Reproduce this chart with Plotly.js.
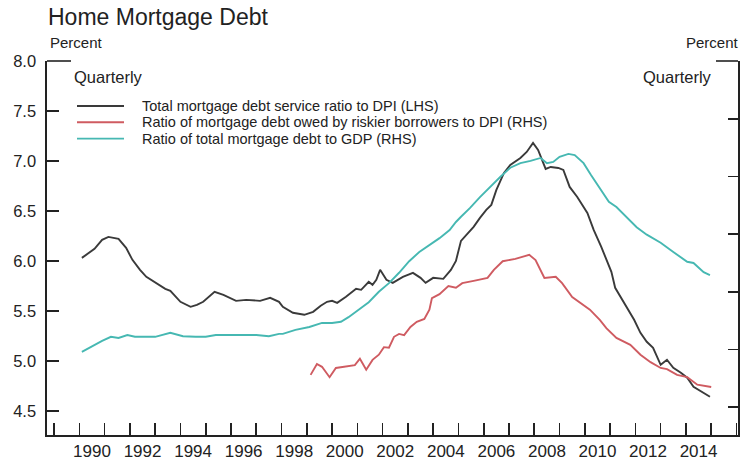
<!DOCTYPE html>
<html>
<head>
<meta charset="utf-8">
<script src="https://cdn.plot.ly/plotly-3.0.1.min.js"></script>
<style>html,body{margin:0;padding:0;background:#fff;}#chart{width:740px;height:466px;}</style>
</head>
<body>
<div id="chart"></div>
<script>
// Total mortgage debt service ratio to DPI (LHS), percent
const dsrYears = [1990.1,1990.6,1990.9,1991.15,1991.55,1991.85,1992.1,1992.4,1992.65,1993.05,1993.4,1993.6,1994.0,1994.4,1994.65,1994.9,1995.35,1995.7,1996.0,1996.2,1996.6,1997.15,1997.55,1997.9,1998.05,1998.45,1998.9,1999.25,1999.55,1999.8,2000.0,2000.2,2000.55,2000.95,2001.15,2001.45,2001.6,2001.75,2001.9,2002.15,2002.4,2002.8,2003.2,2003.5,2003.7,2004.0,2004.4,2004.7,2004.9,2005.1,2005.35,2005.6,2005.85,2006.1,2006.3,2006.5,2006.8,2007.05,2007.45,2007.7,2007.95,2008.15,2008.45,2008.65,2008.95,2009.15,2009.4,2009.7,2010.1,2010.35,2010.65,2010.85,2011.05,2011.2,2011.55,2011.95,2012.2,2012.45,2012.7,2013.0,2013.25,2013.5,2013.8,2014.05,2014.3,2014.6,2014.95];
const dsr      = [6.03,6.12,6.21,6.24,6.22,6.13,6.01,5.91,5.84,5.78,5.72,5.70,5.59,5.54,5.56,5.59,5.69,5.66,5.62,5.60,5.61,5.60,5.63,5.59,5.54,5.48,5.46,5.49,5.55,5.59,5.60,5.58,5.64,5.72,5.71,5.79,5.76,5.81,5.91,5.81,5.78,5.84,5.88,5.83,5.78,5.83,5.82,5.91,6.00,6.20,6.27,6.34,6.43,6.51,6.56,6.71,6.88,6.96,7.03,7.09,7.18,7.11,6.92,6.94,6.93,6.91,6.74,6.64,6.48,6.31,6.14,6.01,5.89,5.73,5.58,5.41,5.28,5.19,5.13,4.96,5.01,4.93,4.88,4.83,4.74,4.69,4.64];

// Ratio of mortgage debt owed by riskier borrowers to DPI (RHS), percent
const riskyYears = [1999.15,1999.4,1999.6,1999.9,2000.15,2000.55,2000.9,2001.1,2001.35,2001.6,2001.85,2002.05,2002.25,2002.45,2002.65,2002.85,2003.1,2003.35,2003.65,2003.85,2003.95,2004.25,2004.6,2004.9,2005.15,2005.6,2006.15,2006.4,2006.75,2007.25,2007.8,2008.05,2008.4,2008.85,2009.1,2009.5,2009.8,2010.05,2010.2,2010.6,2010.85,2011.25,2011.8,2012.2,2012.6,2013.0,2013.25,2013.65,2014.05,2014.45,2015.0];
const risky      = [35.6,37.5,37.0,35.2,36.8,37.0,37.3,38.4,36.5,38.2,39.1,40.4,40.3,42.2,42.7,42.5,43.9,44.8,45.3,46.9,48.9,49.6,51.0,50.7,51.5,51.9,52.4,53.8,55.3,55.7,56.4,55.5,52.4,52.6,51.5,49.1,48.2,47.4,46.9,45.1,43.7,42.0,40.8,39.1,37.8,36.8,36.6,35.6,35.2,33.9,33.5];

// Ratio of total mortgage debt to GDP (RHS), percent
const gdpYears = [1990.1,1990.5,1990.9,1991.25,1991.55,1991.9,1992.2,1992.6,1993.0,1993.6,1994.1,1994.6,1995.0,1995.4,1995.9,1996.45,1997.0,1997.5,1997.9,1998.05,1998.55,1999.1,1999.6,2000.0,2000.35,2000.65,2001.05,2001.45,2001.85,2002.25,2002.65,2003.05,2003.45,2003.85,2004.25,2004.65,2004.9,2005.1,2005.45,2005.85,2006.25,2006.65,2007.05,2007.45,2007.85,2008.25,2008.5,2008.75,2009.0,2009.35,2009.6,2009.95,2010.25,2010.6,2010.95,2011.25,2011.65,2012.05,2012.45,2013.0,2013.5,2014.05,2014.3,2014.7,2014.95];
const mortgageToGdp = [39.6,40.6,41.5,42.2,42.0,42.5,42.2,42.2,42.2,42.9,42.3,42.2,42.2,42.5,42.5,42.5,42.5,42.3,42.7,42.7,43.4,43.9,44.6,44.6,44.8,45.6,46.9,48.2,50.0,51.5,53.3,55.3,56.9,58.1,59.3,60.7,62.1,63.0,64.5,66.4,68.2,69.9,71.5,72.3,72.7,73.2,72.3,72.5,73.4,73.9,73.7,72.3,70.2,67.8,65.6,64.7,63.0,61.2,59.9,58.5,56.9,55.2,55.0,53.4,52.9];

// Tick labels on the time axis (placed mid-year)
const yearLabelPos = [1990.5,1992.5,1994.5,1996.5,1998.5,2000.5,2002.5,2004.5,2006.5,2008.5,2010.5,2012.5,2014.5];
const yearLabels = ['1990','1992','1994','1996','1998','2000','2002','2004','2006','2008','2010','2012','2014'];

// Series names and colours (legend)
const seriesNames = [
  'Total mortgage debt service ratio to DPI (LHS)',
  'Ratio of mortgage debt owed by riskier borrowers to DPI (RHS)',
  'Ratio of total mortgage debt to GDP (RHS)'
];
const seriesColors = ['#3a3a3a', '#cf5b61', '#46b8b2'];

const FONT = '"Liberation Sans", Arial, Helvetica, sans-serif';
const AX = '#222222';
const PW = 691, PH = 374, PL = 47, PB = 435; // plot area in px, for paper conversions
const px = v => (v - PL) / PW;
const py = v => (PB - v) / PH;

const traces = [
  {x: dsrYears, y: dsr, name: seriesNames[0], type: 'scatter', mode: 'lines',
   line: {color: seriesColors[0], width: 1.9}, yaxis: 'y', showlegend: false},
  {x: riskyYears, y: risky, name: seriesNames[1], type: 'scatter', mode: 'lines',
   line: {color: seriesColors[1], width: 1.9}, yaxis: 'y2', showlegend: false},
  {x: gdpYears, y: mortgageToGdp, name: seriesNames[2], type: 'scatter', mode: 'lines',
   line: {color: seriesColors[2], width: 1.9}, yaxis: 'y2', showlegend: false}
];

// Legend (key lines + labels), drawn as layout decorations
const legendRows = [106, 122.3, 138.6];
const legendShapes = legendRows.map((r, i) => ({
  type: 'line', xref: 'paper', yref: 'paper', x0: px(77), x1: px(124), y0: py(r), y1: py(r),
  line: {color: seriesColors[i], width: 1.9}
}));
const legendTexts = legendRows.map((r, i) => ({
  text: seriesNames[i], xref: 'paper', yref: 'paper', x: px(141), y: py(r),
  xanchor: 'left', yanchor: 'middle', showarrow: false, borderpad: 0,
  font: {family: FONT, size: 14.5, color: '#222222'}
}));

const layout = {
  width: 740, height: 466,
  margin: {l: 47, r: 2, t: 61, b: 31, pad: 0},
  paper_bgcolor: '#ffffff', plot_bgcolor: '#ffffff',
  font: {family: FONT, color: '#222222', size: 14},
  showlegend: false,
  title: {text: 'Home Mortgage Debt', x: 48/740, xref: 'container', xanchor: 'left',
          y: 1 - 17/466, yref: 'container', yanchor: 'middle',
          font: {family: FONT, size: 23, color: '#222222'}},
  xaxis: {
    type: 'linear', range: [1988.72, 2016.06], fixedrange: true,
    showgrid: false, zeroline: false,
    showline: true, linecolor: AX, linewidth: 1.6, mirror: false,
    tickmode: 'array', tickvals: yearLabelPos, ticktext: yearLabels, ticks: '',
    tickfont: {family: FONT, size: 17, color: '#222222'},
    minor: {tickmode: 'linear', tick0: 1990, dtick: 1, ticks: 'inside', ticklen: 12, tickwidth: 1.6, tickcolor: AX, showgrid: false}
  },
  yaxis: {
    range: [4.257, 8.0005], tick0: 0, dtick: 0.5, tickformat: '.1f', fixedrange: true,
    showgrid: false, zeroline: false,
    showline: true, linecolor: AX, linewidth: 1.6,
    ticks: 'inside', ticklen: 12, tickwidth: 1.6, tickcolor: AX,
    tickfont: {family: FONT, size: 16.5, color: '#222222'}, ticklabelstandoff: 6
  },
  yaxis2: {
    overlaying: 'y', side: 'right', range: [25.18, 90.001], tick0: 0, dtick: 10, fixedrange: true,
    showgrid: false, zeroline: false,
    showline: true, linecolor: AX, linewidth: 1.6,
    ticks: 'inside', ticklen: 10, tickwidth: 1.6, tickcolor: AX,
    showticklabels: false
  },
  shapes: [
    {type: 'line', xref: 'paper', yref: 'paper', x0: 0, x1: 24/PW, y0: 1, y1: 1, line: {color: AX, width: 1.6}},
    {type: 'line', xref: 'paper', yref: 'paper', x0: 1 - 22/PW, x1: 1, y0: 1, y1: 1, line: {color: AX, width: 1.6}}
  ].concat(legendShapes),
  annotations: [
    {text: 'Percent', xref: 'paper', yref: 'paper', x: px(48), y: py(42), xanchor: 'left', yanchor: 'middle', showarrow: false, font: {family: FONT, size: 15}},
    {text: 'Percent', xref: 'paper', yref: 'paper', x: px(684), y: py(42), xanchor: 'left', yanchor: 'middle', showarrow: false, font: {family: FONT, size: 15}},
    {text: 'Quarterly', xref: 'paper', yref: 'paper', x: px(72), y: py(77), xanchor: 'left', yanchor: 'middle', showarrow: false, font: {family: FONT, size: 16.5}},
    {text: 'Quarterly', xref: 'paper', yref: 'paper', x: px(714), y: py(77), xanchor: 'right', yanchor: 'middle', showarrow: false, font: {family: FONT, size: 16.5}}
  ].concat(legendTexts)
};

Plotly.newPlot('chart', traces, layout, {displayModeBar: false, staticPlot: true});
</script>
</body>
</html>
